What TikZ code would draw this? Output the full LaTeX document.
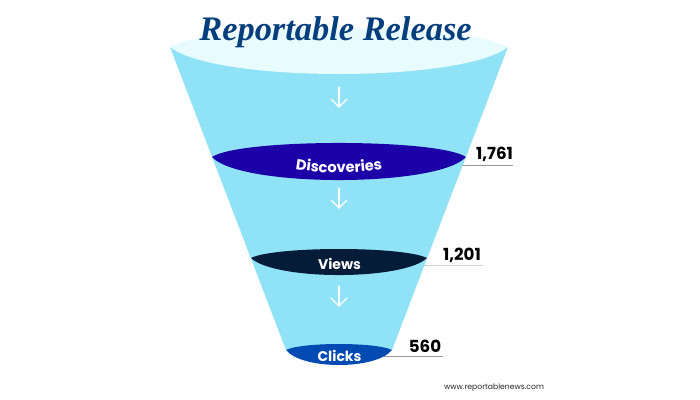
\documentclass[tikz,border=0pt]{standalone}
\usepackage{fontspec}
\setmainfont{Poppins}
\newfontfamily\titlefont{Liberation Serif}
\usetikzlibrary{decorations.text}
\definecolor{funnel}{HTML}{90E2F6}
\definecolor{mouth}{HTML}{E8FBFF}
\definecolor{disc}{HTML}{1C00A8}
\definecolor{viewc}{HTML}{051C38}
\definecolor{clickc}{HTML}{034AB2}
\definecolor{titlec}{HTML}{043E7C}
\tikzset{
  flow/.style={draw=white,line width=0.9pt,line cap=round},
  leader/.style={draw=#1,line width=0.6pt},
  countlabel/.style={font=\fontsize{12.5}{14}\selectfont\bfseries,text=black,inner sep=0pt,anchor=center},
  stage/.style={font=\fontsize{10.5}{12}\selectfont\bfseries\color{white},inner sep=0pt,anchor=center},
}
\begin{document}
\begin{tikzpicture}[x=0.75pt,y=-0.75pt]
\useasboundingbox (0,0) rectangle (700,400);
\fill[white] (0,0) rectangle (700,400);
% funnel body
\fill[funnel] (170,47) -- (508,47) -- (392,350) -- (286,350) -- cycle;
% mouth
\fill[mouth] (170,47) .. controls (215,22) and (463,22) .. (508,47)
  .. controls (463,83) and (215,83) .. (170,47) -- cycle;
% leader lines
\coordinate (l1a) at (462,165); \coordinate (l1b) at (513,165);
\coordinate (l2a) at (424,265.5); \coordinate (l2b) at (483,265.5);
\coordinate (l3a) at (384,356); \coordinate (l3b) at (443,356);
\draw[leader=gray!80] (l1a) -- (l1b);
\draw[leader=gray!35] (l2a) -- (l2b);
\draw[leader=gray!80] (l3a) -- (l3b);
% lenses
\fill[disc] (212,157) .. controls (240,138.3) and (438,138.3) .. (466,157)
  .. controls (438,187.7) and (240,187.7) .. (212,157) -- cycle;
\fill[viewc] (251,258) .. controls (275,246) and (403,246) .. (427,258)
  .. controls (403,280.7) and (275,280.7) .. (251,258) -- cycle;
\fill[clickc] (286,350) .. controls (302,342) and (376,342) .. (392,350)
  .. controls (376,370) and (302,370) .. (286,350) -- cycle;
% arrows
\foreach \n/\ya/\yb in {a/87/107,b/188/208,c/286/306}{
  \coordinate (\n1) at (339,\ya); \coordinate (\n2) at (339,\yb);
  \coordinate (\n3) at (331,\yb-8); \coordinate (\n4) at (347,\yb-8);
  \draw[flow] (\n1) -- (\n2);
  \draw[flow] (\n3) -- (\n2) -- (\n4);
}
% title
\node[inner sep=0pt,text=titlec] (title) at (335.5,32)
  {\titlefont\fontsize{25.8}{28}\selectfont\bfseries\itshape Reportable Release};
% stage labels
\path[postaction={decorate,decoration={text along path,text align=center,
  text={|\fontsize{11}{12}\selectfont\bfseries\color{white}|Discoveries}}}]
  (287,167.5) .. controls (320,174.5) and (358,174.5) .. (391,167.5);
\node[stage] (views) at (339.5,264) {Views};
\node[stage] (clicks) at (339.5,356) {Clicks};
% counts
\node[countlabel] (n1) at (494.5,154) {1,761};
\node[countlabel] (n2) at (462,255) {1,201};
\node[countlabel] (n3) at (425,346) {560};
\node[inner sep=0pt,font=\fontsize{5.75}{7}\selectfont,text=black!85] (site) at (494,388) {www.reportablenews.com};
\end{tikzpicture}
\end{document}
